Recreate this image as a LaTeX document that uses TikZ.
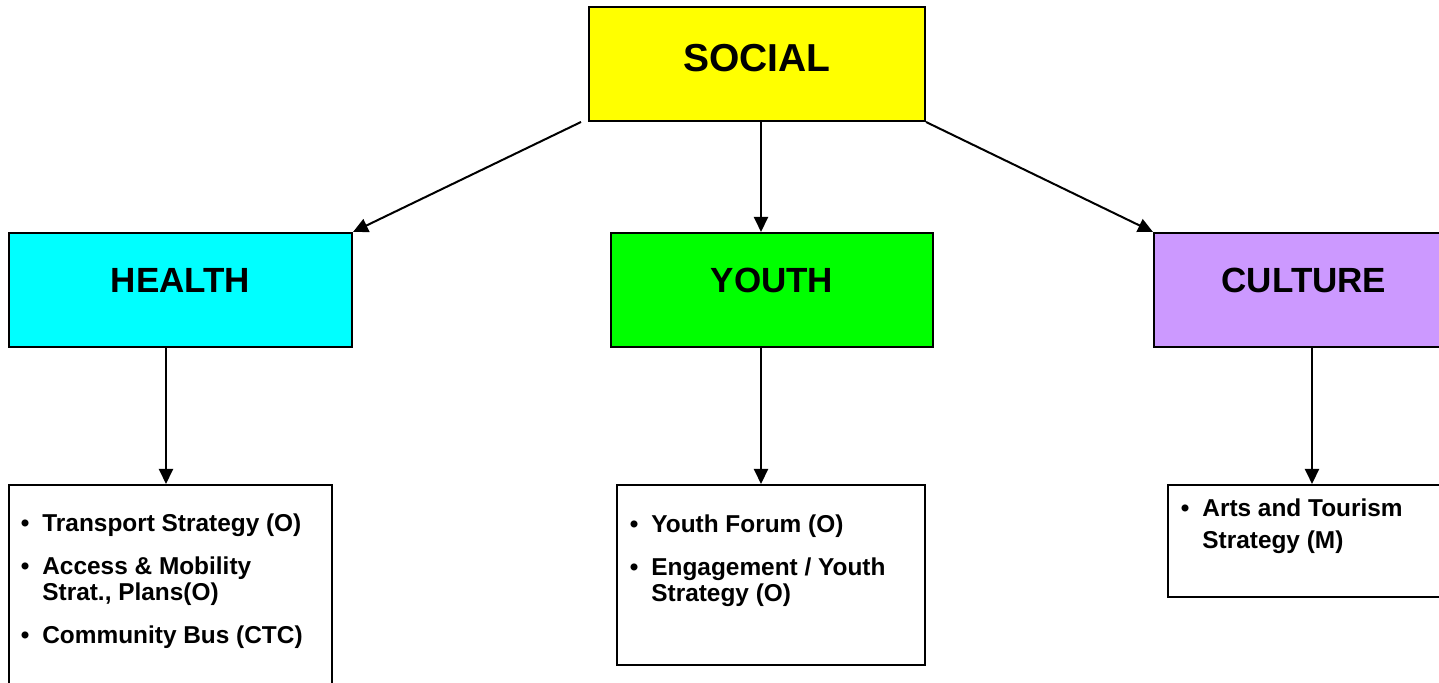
\documentclass[tikz,border=0pt]{standalone}
\usepackage{fontspec}
\setmainfont{Liberation Sans}
\usepackage{xcolor}
\usepackage{tikz}
\usetikzlibrary{arrows.meta,positioning}

\definecolor{socialyellow}{HTML}{FFFF00}
\definecolor{healthcyan}{HTML}{00FFFF}
\definecolor{youthgreen}{HTML}{00FF00}
\definecolor{culturepurple}{HTML}{CC99FF}

\newcommand{\bitem}{\llap{\textbullet\hspace{6.5pt}}}

\begin{document}
\begin{tikzpicture}[
    x=0.5pt, y=-0.5pt,
    node distance=68pt,
    head/.style={rectangle, draw, line width=1pt, minimum height=57pt, font=\fontsize{17.5}{20}\selectfont\bfseries, text depth=10pt},
    listbox/.style={rectangle, draw, line width=1pt, fill=white},
    items/.style={anchor=base west, inner sep=0pt, align=left, font=\fontsize{12.2}{13}\selectfont\bfseries},
    arrow/.style={-{Triangle[length=7.5pt,width=7pt]}, line width=1pt}
]
\useasboundingbox (0,0) rectangle (1439,683);

\node[head, fill=socialyellow, minimum width=168pt, font=\fontsize{19.5}{22}\selectfont\bfseries, text depth=6.5pt] (social) at (757,64) {SOCIAL};
\node[head, fill=healthcyan, minimum width=171.5pt] (health) at (180.5,290) {HEALTH};
\node[head, fill=youthgreen, minimum width=161pt] (youth) at (772,290) {YOUTH};
\node[head, fill=culturepurple, minimum width=150pt] (culture) at (1304,290) {CULTURE};

\node[listbox, below=68pt of health, xshift=-5pt, minimum width=161.5pt, minimum height=103.5pt] (healthlist) {};
\node[listbox, below=68pt of youth, xshift=-0.5pt, minimum width=154pt, minimum height=90pt] (youthlist) {};
\node[listbox, below=68pt of culture, xshift=3.75pt, minimum width=143.5pt, minimum height=56pt] (culturelist) {};

% base anchor sits on the last line
\node[items] (healthitems) at ([xshift=17pt, yshift=-79.5pt]healthlist.north west)
    {\bitem Transport Strategy (O)\\[8.5pt] \bitem Access \& Mobility\\ Strat., Plans(O)\\[8.5pt] \bitem Community Bus (CTC)};
\node[items] (youthitems) at ([xshift=17.5pt, yshift=-58.5pt]youthlist.north west)
    {\bitem Youth Forum (O)\\[8.5pt] \bitem Engagement / Youth\\ Strategy (O)};
\node[items, font=\fontsize{12.2}{16}\selectfont\bfseries] (cultureitems) at ([xshift=17.5pt, yshift=-32pt]culturelist.north west)
    {\bitem Arts and Tourism\\ Strategy (M)};

\draw[arrow] ([xshift=-3.5pt]social.south west) -- (health.north east);
\draw[arrow] ([xshift=2pt]social.south) -- ([xshift=2pt]social.south |- youth.north);
\draw[arrow] (social.south east) -- (culture.north west);
\draw[arrow] ([xshift=-7.25pt]health.south) -- ([xshift=-7.25pt]health.south |- healthlist.north);
\draw[arrow] ([xshift=-5.5pt]youth.south) -- ([xshift=-5.5pt]youth.south |- youthlist.north);
\draw[arrow] ([xshift=4pt]culture.south) -- ([xshift=4pt]culture.south |- culturelist.north);
\end{tikzpicture}
\end{document}
